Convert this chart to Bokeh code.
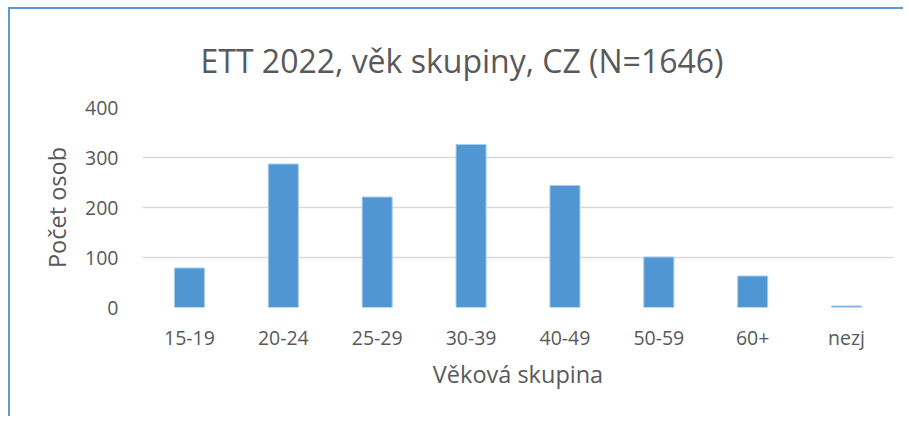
from bokeh.plotting import figure
from bokeh.embed import file_html
from bokeh.resources import INLINE

categories = ["15-19", "20-24", "25-29", "30-39", "40-49", "50-59", "60+", "nezj"]
counts = [79, 287, 221, 326, 244, 101, 63, 3]
y_ticks = [0, 100, 200, 300, 400]
title_text = "ETT 2022, věk skupiny, CZ (N=1646)"
x_label = "Věková skupina"
y_label = "Počet osob"

FONT = "Open Sans"
GRAY = "#595959"

p = figure(x_range=categories, y_range=(0, 400), width=895, height=409,
           output_backend="svg", toolbar_location=None,
           min_border_left=132, min_border_right=12,
           min_border_top=98, min_border_bottom=111)
p.styles = {"border-top": "2px solid #5B9BD5", "border-left": "2px solid #5B9BD5",
            "margin-left": "8px", "margin-top": "7px"}

p.vbar(x=categories, top=counts, width=0.32, fill_color="#5096D2",
       line_color="#A9CCEB", line_width=1)

p.title.text = title_text
p.title.align = "left"
p.title.offset = 58
p.title.standoff = 52
p.title.text_font = FONT
p.title.text_font_size = "32px"
p.title.text_font_style = "normal"
p.title.text_color = GRAY

p.outline_line_color = None
p.background_fill_color = "white"
p.border_fill_color = "white"
p.xgrid.grid_line_color = None
p.ygrid.grid_line_color = "#D9D9D9"
p.ygrid.grid_line_width = 1.3
p.yaxis.ticker = y_ticks

for ax in (p.xaxis, p.yaxis):
    ax.axis_line_color = None
    ax.major_tick_line_color = None
    ax.minor_tick_line_color = None
    ax.major_tick_out = 0
    ax.major_tick_in = 0
    ax.major_label_text_font = FONT
    ax.major_label_text_font_size = "19.5px"
    ax.major_label_text_color = GRAY
    ax.axis_label_text_font = FONT
    ax.axis_label_text_font_size = "23.5px"
    ax.axis_label_text_font_style = "normal"
    ax.axis_label_text_color = GRAY

p.xaxis.axis_label = x_label
p.yaxis.axis_label = y_label
p.xaxis.major_label_standoff = 16
p.yaxis.major_label_standoff = 24
p.xaxis.axis_label_standoff = 4
p.yaxis.axis_label_standoff = 9

open("out.html", "w").write(file_html(p, INLINE))
